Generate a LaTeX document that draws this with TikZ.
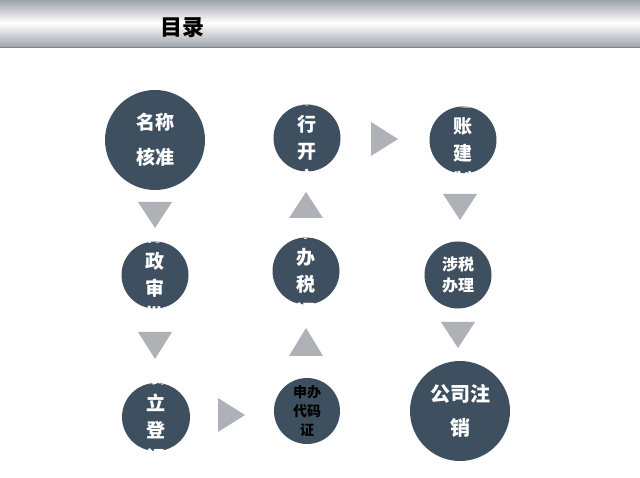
\documentclass[tikz,border=0pt]{standalone}
\usepackage{fontspec}
\setmainfont{Noto Sans CJK SC}
\begin{document}
\begin{tikzpicture}[x=1pt,y=-1pt,
  circ/.style={circle,fill=cnode,draw=none,inner sep=0pt},
  tri/.style={fill=ctri,draw=none},
  lab/.style={text=white,align=center,font=\bfseries}]
\definecolor{cnode}{HTML}{3E5060}
\definecolor{ctri}{HTML}{AEB1B6}
\definecolor{hgrey}{HTML}{9EA4AB}
\useasboundingbox (0,0) rectangle (640,478);
\fill[white] (0,0) rectangle (640,478);
% header
\shade[top color=hgrey,bottom color=white] (0,0) rectangle (640,23);
\shade[top color=white,bottom color=hgrey] (0,23) rectangle (640,47);
\draw[hgrey!80!black,line width=0.6pt] (0,47) -- (640,47);
\node[font=\fontsize{22}{22}\selectfont\bfseries] (title) at (182,28) {目录};
% circles
\newcommand{\circnode}[7]{%
  \node[circ,minimum size=#4] (#1) at (#2,#3) {};
  \begin{scope}\clip (#2,#3) circle ({#4/2});
  \node[lab,font=\fontsize{#5}{#6}\selectfont\bfseries] at (#2,#3) {#7};
  \end{scope}}
\circnode{a}{155}{140}{100}{19}{35}{名称\\核准}
\circnode{b}{155}{275}{67}{19}{27}{行\\政\\审\\批}
\circnode{c}{156}{417}{68}{19}{27}{设\\立\\登\\记}
\node[circ,minimum size=66] (d) at (307,411) {};
\node[align=center,font=\fontsize{14}{19}\selectfont\bfseries,text=black] at (307,411) {申办\\代码\\证};
\circnode{e}{306}{271}{67}{19}{27}{申\\办\\税\\证}
\circnode{f}{307}{138}{67}{19}{27}{银\\行\\开\\户}
\circnode{g}{463}{140}{67}{19}{27}{建\\账\\建\\制}
\circnode{h}{458}{275}{67}{16}{21}{涉税\\办理}
\circnode{i}{460}{411}{100}{20}{34}{公司注\\销}
% triangles
\fill[tri] (138,202) -- (172,202) -- (155,228) -- cycle;
\fill[tri] (138,332) -- (172,332) -- (155,359) -- cycle;
\fill[tri] (218,398) -- (218,432) -- (245,415) -- cycle;
\fill[tri] (289,218) -- (323,218) -- (306,192) -- cycle;
\fill[tri] (289,356) -- (323,356) -- (306,328) -- cycle;
\fill[tri] (371,122) -- (371,156) -- (398,139) -- cycle;
\fill[tri] (443,194) -- (477,194) -- (460,220) -- cycle;
\fill[tri] (441,322) -- (475,322) -- (458,348) -- cycle;
\end{tikzpicture}
\end{document}
